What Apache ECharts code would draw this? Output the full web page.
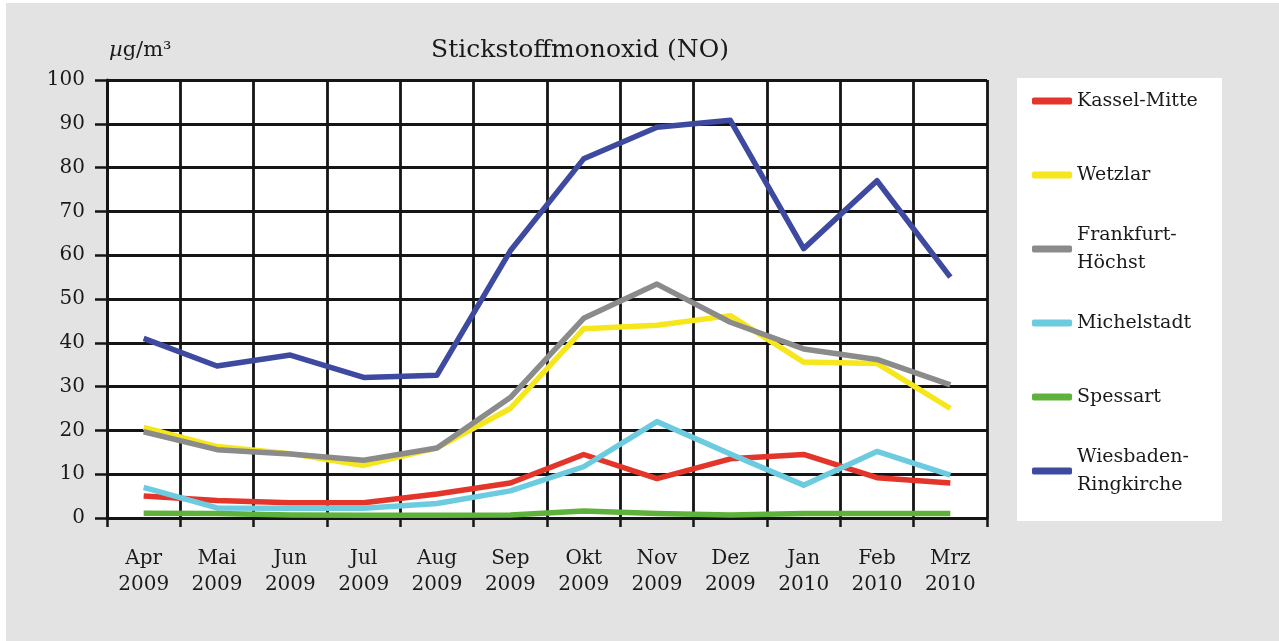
<!DOCTYPE html>
<html>
<head>
<meta charset="utf-8">
<script src="https://cdn.jsdelivr.net/npm/echarts@6/dist/echarts.min.js"></script>
<style>
html,body{margin:0;padding:0;background:#ffffff;width:1279px;height:641px;overflow:hidden;}
#chart{position:absolute;left:6px;top:3px;width:1273px;height:638px;}
</style>
</head>
<body>
<div id="chart"></div>
<script>
const title = 'Stickstoffmonoxid (NO)';
const unit = 'µg/m³';
const categories = ['Apr\n2009','Mai\n2009','Jun\n2009','Jul\n2009','Aug\n2009','Sep\n2009','Okt\n2009','Nov\n2009','Dez\n2009','Jan\n2010','Feb\n2010','Mrz\n2010'];
const seriesNames = ['Kassel-Mitte','Wetzlar','Frankfurt-\nHöchst','Michelstadt','Spessart','Wiesbaden-\nRingkirche'];
const kasselMitte = [5, 4, 3.5, 3.5, 5.5, 8, 14.5, 9, 13.5, 14.5, 9.2, 8];
const wetzlar = [20.7, 16.3, 14.7, 12, 16, 25, 43.2, 44, 46.2, 35.6, 35.3, 25];
const frankfurtHoechst = [19.7, 15.6, 14.6, 13.2, 16, 27.5, 45.6, 53.4, 44.7, 38.6, 36.2, 30.4];
const michelstadt = [7, 2.3, 2.2, 2.2, 3.3, 6.2, 11.7, 22, 14.6, 7.5, 15.2, 9.8];
const spessart = [1.1, 1, 0.7, 0.6, 0.6, 0.7, 1.6, 1, 0.7, 1, 1, 1];
const wiesbadenRingkirche = [41, 34.7, 37.2, 32.1, 32.6, 61, 82, 89.2, 90.8, 61.5, 77, 55];
const yTicks = {min: 0, max: 100, interval: 10};

const seriesData = [kasselMitte, wetzlar, frankfurtHoechst, michelstadt, spessart, wiesbadenRingkirche];
const colors = ['#e4352b', '#f6e71c', '#8b8b8b', '#6dcbe0', '#5eb23b', '#3d4aa0'];

const FONT = 'DejaVu Serif';
const TXT = '#1a1a1a';
const LINE = '#151515';
const legendCenters = [98, 172, 246, 320, 394, 468]; // in chart-div coords
const LH = 28;

const legends = seriesNames.map((n, i) => {
  const twoLine = n.indexOf('\n') >= 0;
  return {
    data: [{name: n, icon: 'roundRect'}],
    orient: 'vertical',
    left: 1026,
    top: twoLine ? legendCenters[i] - LH * 1.5 : legendCenters[i] - LH / 2,
    padding: 0,
    itemWidth: 40,
    itemHeight: 7,
    selectedMode: false,
    itemStyle: {color: colors[i], borderWidth: 0},
    textStyle: {
      fontFamily: FONT, fontSize: 19, color: TXT, lineHeight: LH,
      padding: twoLine ? [LH, 0, 0, 0] : 0
    }
  };
});

const chart = echarts.init(document.getElementById('chart'), null, {renderer: 'canvas'});
chart.setOption({
  backgroundColor: '#e3e3e3',
  animation: false,
  color: colors,
  title: {
    text: title,
    left: 569, textAlign: 'center', top: 30,
    textStyle: {fontFamily: FONT, fontSize: 25, fontWeight: 'normal', color: TXT}
  },
  graphic: [{
    type: 'rect', left: 1011, top: 75, z: -1,
    shape: {width: 205, height: 443},
    style: {fill: '#ffffff'}
  }],
  legend: legends,
  grid: {left: 101, right: 292, top: 77, bottom: 123, backgroundColor: '#ffffff', show: true, borderWidth: 0},
  xAxis: {
    type: 'category',
    data: categories,
    boundaryGap: true,
    axisLine: {lineStyle: {color: LINE, width: 3}},
    axisTick: {show: true, length: 9, inside: false, lineStyle: {color: LINE, width: 2.5}},
    splitLine: {show: true, lineStyle: {color: LINE, width: 2.8}},
    axisLabel: {fontFamily: FONT, fontSize: 20, color: TXT, lineHeight: 26, margin: 28, interval: 0}
  },
  yAxis: {
    type: 'value',
    min: yTicks.min, max: yTicks.max, interval: yTicks.interval,
    name: '{mu|µ}g/m³',
    nameLocation: 'end',
    nameGap: 19,
    nameTextStyle: {
      fontFamily: FONT, fontSize: 21, color: TXT, align: 'left', padding: [0, 0, 0, 2],
      rich: {mu: {fontFamily: FONT, fontSize: 21, fontStyle: 'italic', color: TXT}}
    },
    axisLine: {show: true, lineStyle: {color: LINE, width: 3}},
    axisTick: {show: true, length: 12, lineStyle: {color: LINE, width: 2.5}},
    splitLine: {show: true, lineStyle: {color: LINE, width: 2.8}},
    axisLabel: {fontFamily: FONT, fontSize: 20, color: TXT, margin: 22}
  },
  series: seriesNames.map((n, i) => ({
    name: n,
    type: 'line',
    data: seriesData[i],
    symbol: 'none',
    smooth: false,
    lineStyle: {width: 5.5, color: colors[i], join: 'round'},
    itemStyle: {color: colors[i]},
    z: 3 + i
  }))
});
</script>
</body>
</html>
